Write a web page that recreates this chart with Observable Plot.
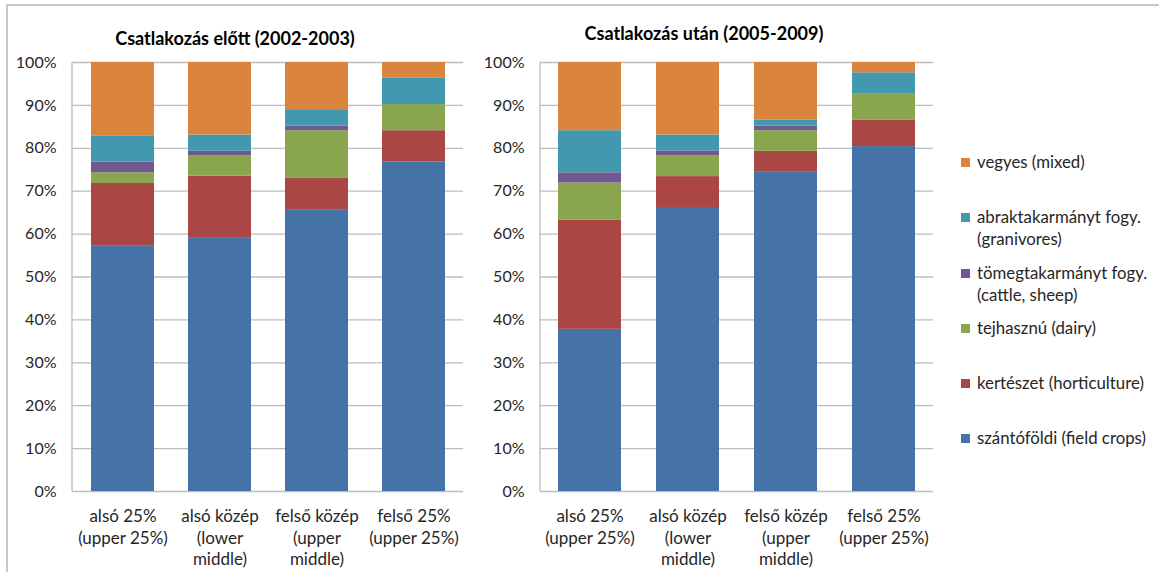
<!DOCTYPE html>
<html>
<head>
<meta charset="utf-8">
<script src="https://cdn.jsdelivr.net/npm/d3@7"></script>
<script src="https://cdn.jsdelivr.net/npm/@observablehq/plot@0.6"></script>
<style>
  body { margin: 0; background: #fff; font-family: Lato, "Open Sans", sans-serif; }
  #wrap { position: relative; width: 1159px; height: 572px; overflow: hidden; background: #fff; }
  .frame { position: absolute; left: 6px; top: 4px; width: 1200px; height: 700px; border-left: 2px solid #c6c6c6; border-top: 2px solid #c6c6c6; }
  .title { position: absolute; font-weight: bold; font-size: 18px; color: #000; transform: translate(-50%, -50%); white-space: nowrap; }
  .chart { position: absolute; top: 0; }
  .lg { position: absolute; left: 961px; font-size: 16.8px; color: #262626; line-height: 22px; white-space: pre; }
  .lg .sw { position: absolute; left: 0; top: 7px; width: 9px; height: 9px; }
  .lg .tx { position: absolute; left: 16px; top: 0; }
</style>
</head>
<body>
<div id="wrap">
  <div class="frame"></div>
</div>
<script>
// ---- data ----
const groups = [
  "alsó 25%\n(upper 25%)",
  "alsó közép\n(lower\nmiddle)",
  "felső közép\n(upper\nmiddle)",
  "felső 25%\n(upper 25%)"
];
const seriesNames = [
  "szántóföldi (field crops)",
  "kertészet (horticulture)",
  "tejhasznú (dairy)",
  "tömegtakarmányt fogy.\n(cattle, sheep)",
  "abraktakarmányt fogy.\n(granivores)",
  "vegyes (mixed)"
];
const seriesColors = ["#4572A7", "#AA4643", "#89A54E", "#71588F", "#4198AF", "#DB843D"];
const yTicks = [0, 10, 20, 30, 40, 50, 60, 70, 80, 90, 100];
const titleBefore = "Csatlakozás előtt (2002-2003)";
const titleAfter = "Csatlakozás után (2005-2009)";

// before accession (2002-2003), % per group
const beforeFieldCrops   = [57.3, 59.0, 65.7, 76.8];
const beforeHorticulture = [14.5, 14.5,  7.4,  7.3];
const beforeDairy        = [ 2.5,  4.7, 11.0,  6.1];
const beforeCattleSheep  = [ 2.5,  1.1,  1.1,  0.0];
const beforeGranivores   = [ 6.0,  3.8,  3.8,  6.1];
const beforeMixed        = [17.2, 16.9, 11.0,  3.7];

// after accession (2005-2009), % per group
const afterFieldCrops   = [37.8, 66.2, 74.4, 80.4];
const afterHorticulture = [25.5,  7.2,  4.9,  6.2];
const afterDairy        = [ 8.6,  4.8,  4.8,  6.0];
const afterCattleSheep  = [ 2.4,  1.2,  1.1,  0.0];
const afterGranivores   = [ 9.8,  3.7,  1.4,  5.0];
const afterMixed        = [15.9, 16.9, 13.4,  2.4];

// ---- build ----
function toRows(cols) {
  const rows = [];
  seriesNames.forEach((s, si) => groups.forEach((g, gi) => rows.push({group: g, series: s, value: cols[si][gi]})));
  return rows;
}

function chart(cols, marginRight) {
  const rows = toRows(cols);
  return Plot.plot({
    width: 500,
    height: 572,
    marginLeft: 72,
    marginRight: marginRight,
    marginTop: 62,
    marginBottom: 81,
    style: { fontFamily: "Lato, 'Open Sans', sans-serif", fontSize: "16px", color: "#262626", background: "transparent", overflow: "visible" },
    x: { domain: groups, paddingInner: 0.355, paddingOuter: 0.1775, label: null, axis: null },
    y: { domain: [0, 100], label: null, axis: null },
    color: { domain: seriesNames, range: seriesColors },
    marks: [
      Plot.gridY(yTicks, { stroke: "#bdbdbd", strokeOpacity: 1, strokeWidth: 1.3 }),
      Plot.barY(rows, { x: "group", y: "value", fill: "series", order: seriesNames }),
      (index, scales, values, dims) => {
        const ln = d3.create("svg:line")
          .attr("x1", dims.marginLeft).attr("x2", dims.marginLeft)
          .attr("y1", scales.y(0)).attr("y2", scales.y(100))
          .attr("stroke", "#bdbdbd").attr("stroke-width", 1.3);
        return ln.node();
      },
      Plot.axisY(yTicks, { tickSize: 0, tickPadding: 16, tickFormat: d => d + "%", label: null, fontSize: 16 }),
      Plot.axisX({ tickSize: 0, tickPadding: 15, label: null, lineHeight: 1.28, fontSize: 17 })
    ]
  });
}

const wrap = document.getElementById("wrap");

const c1 = chart([beforeFieldCrops, beforeHorticulture, beforeDairy, beforeCattleSheep, beforeGranivores, beforeMixed], 37);
c1.classList.add("chart");
c1.style.left = "0px";
wrap.appendChild(c1);

const c2 = chart([afterFieldCrops, afterHorticulture, afterDairy, afterCattleSheep, afterGranivores, afterMixed], 35);
c2.classList.add("chart");
c2.style.left = "468px";
wrap.appendChild(c2);

const t1 = document.createElement("div");
t1.className = "title"; t1.textContent = titleBefore;
t1.style.left = "235px"; t1.style.top = "38px";
wrap.appendChild(t1);

const t2 = document.createElement("div");
t2.className = "title"; t2.textContent = titleAfter;
t2.style.left = "704px"; t2.style.top = "33px";
wrap.appendChild(t2);

// legend: top-down order is reverse of stacking
const legendTops = [427, 372, 317, 262, 206, 151];
seriesNames.forEach((s, i) => {
  const it = document.createElement("div");
  it.className = "lg";
  it.style.top = legendTops[i] + "px";
  const sw = document.createElement("div");
  sw.className = "sw"; sw.style.background = seriesColors[i];
  const tx = document.createElement("div");
  tx.className = "tx"; tx.textContent = s;
  it.appendChild(sw); it.appendChild(tx);
  wrap.appendChild(it);
});
</script>
</body>
</html>
